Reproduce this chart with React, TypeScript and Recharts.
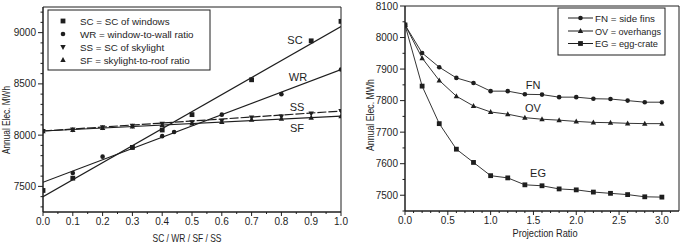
import React from 'react';
import {
  ComposedChart,
  LineChart,
  Line,
  Scatter,
  XAxis,
  YAxis,
  ReferenceArea
} from 'recharts';

// left panel: scatter points
const scX = [0, 0.1, 0.3, 0.4, 0.5, 0.7, 0.9, 1.0];
const scY = [7460, 7580, 7880, 8050, 8200, 8540, 8920, 9110];
const wrX = [0.1, 0.2, 0.3, 0.4, 0.44, 0.6, 0.8, 1.0];
const wrY = [7630, 7790, 7880, 7990, 8030, 8200, 8400, 8640];
const skyX = [0, 0.1, 0.2, 0.3, 0.4, 0.5, 0.6, 0.7, 0.8, 0.9, 1.0];
const ssY = [8040, 8055, 8075, 8090, 8110, 8125, 8140, 8170, 8180, 8210, 8235];
const sfY = [8040, 8050, 8070, 8085, 8100, 8115, 8130, 8150, 8160, 8170, 8185];

// left panel: fitted lines (end points)
const fitX = [0, 1.0];
const scFit = [7400, 9060];
const wrFit = [7540, 8640];
const ssFit = [8040, 8235];
const sfFit = [8040, 8185];

// right panel
const ratio = [0, 0.2, 0.4, 0.6, 0.8, 1.0, 1.2, 1.4, 1.6, 1.8, 2.0, 2.2, 2.4, 2.6, 2.8, 3.0];
const fnY = [8040, 7951, 7906, 7872, 7856, 7830, 7830, 7820, 7819, 7811, 7811, 7806, 7805, 7800, 7795, 7795];
const ovY = [8040, 7935, 7864, 7814, 7783, 7764, 7757, 7746, 7741, 7738, 7734, 7731, 7730, 7728, 7727, 7727];
const egY = [8040, 7846, 7727, 7646, 7604, 7562, 7555, 7533, 7530, 7520, 7517, 7510, 7506, 7502, 7495, 7494];

// ticks
const leftXMajor = [0, 0.1, 0.2, 0.3, 0.4, 0.5, 0.6, 0.7, 0.8, 0.9, 1.0];
const leftXMinor = [0.05, 0.15, 0.25, 0.35, 0.45, 0.55, 0.65, 0.75, 0.85, 0.95];
const leftYMajor = [7500, 8000, 8500, 9000];
const leftYMinor = [7300, 7400, 7600, 7700, 7800, 7900, 8100, 8200, 8300, 8400, 8600, 8700, 8800, 8900, 9100, 9200];
const rightXMajor = [0, 0.5, 1.0, 1.5, 2.0, 2.5, 3.0];
const rightXMinor = [0.1, 0.2, 0.3, 0.4, 0.6, 0.7, 0.8, 0.9, 1.1, 1.2, 1.3, 1.4, 1.6, 1.7, 1.8, 1.9, 2.1, 2.2, 2.3, 2.4, 2.6, 2.7, 2.8, 2.9, 3.1];
const rightYMajor = [7500, 7600, 7700, 7800, 7900, 8000, 8100];
const rightYMinor = [7450, 7550, 7650, 7750, 7850, 7950, 8050];

const INK = '#1e1e1e';
const FONT = '"Liberation Sans", Arial, sans-serif';

const zip = (xs: number[], ys: number[]) => xs.map((x, i) => ({ x, y: ys[i] }));
const rightData = ratio.map((x, i) => ({ x, fn: fnY[i], ov: ovY[i], eg: egY[i] }));

const isMajor = (v: number, list: number[]) => list.some((m) => Math.abs(m - v) < 1e-6);

const makeXTick = (major: number[]) => (p: any) => {
  const v = p.payload.value;
  const big = isMajor(v, major);
  return (
    <g>
      <line x1={p.x} x2={p.x} y1={p.y} y2={p.y + (big ? 4 : 2)} stroke={INK} />
      {big && (
        <text x={p.x} y={p.y + 13} textAnchor="middle" fontSize={10} fontFamily={FONT} fill={INK}>
          {v.toFixed(1)}
        </text>
      )}
    </g>
  );
};

const makeYTick = (major: number[]) => (p: any) => {
  const v = p.payload.value;
  const big = isMajor(v, major);
  return (
    <g>
      <line x1={p.x} x2={p.x - (big ? 5 : 2.5)} y1={p.y} y2={p.y} stroke={INK} />
      {big && (
        <text x={p.x - 7} y={p.y + 3.5} textAnchor="end" fontSize={10} fontFamily={FONT} fill={INK}>
          {v}
        </text>
      )}
    </g>
  );
};

const Square = ({ cx, cy }: any) => <rect x={cx - 2.4} y={cy - 2.4} width={4.8} height={4.8} fill={INK} />;
const Dot = ({ cx, cy }: any) => <circle cx={cx} cy={cy} r={2.3} fill={INK} />;
const TriUp = ({ cx, cy }: any) => (
  <polygon points={`${cx},${cy - 2.9} ${cx - 2.7},${cy + 2.1} ${cx + 2.7},${cy + 2.1}`} fill={INK} />
);
const TriDown = ({ cx, cy }: any) => (
  <polygon points={`${cx},${cy + 2.9} ${cx - 2.7},${cy - 2.1} ${cx + 2.7},${cy - 2.1}`} fill={INK} />
);

const lineDot = (Shape: any) => (p: any) => <Shape key={`d${p.index}`} cx={p.cx} cy={p.cy} />;

const Overlay = () => (
  <svg width={685} height={246} style={{ position: 'absolute', left: 0, top: 0, pointerEvents: 'none' }}>
    <g fontFamily={FONT} fill={INK}>
      {/* left legend */}
      <rect x={48} y={10} width={162} height={60} fill="white" stroke={INK} strokeWidth={1} />
      <Square cx={63} cy={21} />
      <Dot cx={63} cy={34} />
      <TriDown cx={63} cy={47} />
      <TriUp cx={63} cy={60} />
      <text x={80} y={24.5} fontSize={9.8}>SC = SC of windows</text>
      <text x={80} y={37.5} fontSize={9.8}>WR = window-to-wall ratio</text>
      <text x={80} y={50.5} fontSize={9.8}>SS = SC of skylight</text>
      <text x={80} y={63.5} fontSize={9.8}>SF = skylight-to-roof ratio</text>

      {/* left series labels */}
      <text x={295} y={44} fontSize={11} textAnchor="middle">SC</text>
      <text x={298} y={81} fontSize={11} textAnchor="middle">WR</text>
      <text x={297} y={111} fontSize={11} textAnchor="middle">SS</text>
      <text x={297} y={132} fontSize={11} textAnchor="middle">SF</text>

      {/* left titles */}
      <text x={187} y={242} fontSize={10.5} textAnchor="middle" textLength={69} lengthAdjust="spacingAndGlyphs">
        SC / WR / SF / SS
      </text>
      <text transform="translate(9.5,120) rotate(-90)" fontSize={10} textAnchor="middle" textLength={68} lengthAdjust="spacingAndGlyphs">
        Annual Elec. MWh
      </text>

      {/* right legend */}
      <rect x={558} y={8} width={107} height={47} fill="white" stroke={INK} strokeWidth={1} />
      <line x1={568} x2={593} y1={18} y2={18} stroke={INK} />
      <Dot cx={580.5} cy={18} />
      <line x1={568} x2={593} y1={31} y2={31} stroke={INK} />
      <TriUp cx={580.5} cy={31} />
      <line x1={568} x2={593} y1={43.5} y2={43.5} stroke={INK} />
      <Square cx={580.5} cy={43.5} />
      <text x={595} y={21.5} fontSize={9.5} textLength={60} lengthAdjust="spacingAndGlyphs">FN = side fins</text>
      <text x={595} y={34.5} fontSize={9.5} textLength={66} lengthAdjust="spacingAndGlyphs">OV = overhangs</text>
      <text x={595} y={47} fontSize={9.5} textLength={63} lengthAdjust="spacingAndGlyphs">EG = egg-crate</text>

      {/* right series labels */}
      <text x={533} y={89} fontSize={11} textAnchor="middle">FN</text>
      <text x={533} y={112} fontSize={11} textAnchor="middle">OV</text>
      <text x={538} y={177} fontSize={11} textAnchor="middle">EG</text>

      {/* right titles */}
      <text x={545} y={237} fontSize={10.5} textAnchor="middle" textLength={65} lengthAdjust="spacingAndGlyphs">
        Projection Ratio
      </text>
      <text transform="translate(373.5,115) rotate(-90)" fontSize={10} textAnchor="middle" textLength={72} lengthAdjust="spacingAndGlyphs">
        Annual Elec. MWh
      </text>
    </g>
  </svg>
);

export default function App() {
  return (
    <div style={{ position: 'absolute', left: 0, top: 0, width: 685, height: 246, background: '#fff' }}>
      <div style={{ position: 'absolute', left: 0, top: 0 }}>
        <ComposedChart width={352} height={246} margin={{ top: 7, right: 11, bottom: 0, left: 0 }}>
          <XAxis
            type="number"
            dataKey="x"
            domain={[0, 1]}
            ticks={[...leftXMajor, ...leftXMinor].sort((a, b) => a - b)}
            interval={0}
            height={34}
            tickSize={0}
            tickMargin={0}
            tickLine={false}
            tick={makeXTick(leftXMajor)}
            axisLine={{ stroke: INK }}
            allowDataOverflow
          />
          <YAxis
            type="number"
            domain={[7250, 9250]}
            ticks={[...leftYMajor, ...leftYMinor].sort((a, b) => a - b)}
            interval={0}
            width={43}
            tickSize={0}
            tickMargin={0}
            tickLine={false}
            tick={makeYTick(leftYMajor)}
            axisLine={{ stroke: INK }}
            allowDataOverflow
          />
          <ReferenceArea x1={0} x2={1} y1={7250} y2={9250} fill="none" stroke={INK} strokeWidth={1} />
          <Line data={zip(fitX, scFit)} dataKey="y" stroke={INK} strokeWidth={1.2} dot={false} isAnimationActive={false} />
          <Line data={zip(fitX, wrFit)} dataKey="y" stroke={INK} strokeWidth={1.2} dot={false} isAnimationActive={false} />
          <Line data={zip(fitX, ssFit)} dataKey="y" stroke={INK} strokeWidth={1.2} strokeDasharray="9 2" dot={false} isAnimationActive={false} />
          <Line data={zip(fitX, sfFit)} dataKey="y" stroke={INK} strokeWidth={1.2} dot={false} isAnimationActive={false} />
          <Scatter data={zip(scX, scY)} dataKey="y" shape={Square} isAnimationActive={false} />
          <Scatter data={zip(wrX, wrY)} dataKey="y" shape={Dot} isAnimationActive={false} />
          <Scatter data={zip(skyX, ssY)} dataKey="y" shape={TriDown} isAnimationActive={false} />
          <Scatter data={zip(skyX, sfY)} dataKey="y" shape={TriUp} isAnimationActive={false} />
        </ComposedChart>
      </div>
      <div style={{ position: 'absolute', left: 352, top: 0 }}>
        <LineChart width={333} height={246} data={rightData} margin={{ top: 6, right: 6, bottom: 0, left: 0 }}>
          <XAxis
            type="number"
            dataKey="x"
            domain={[0, 3.2]}
            ticks={[...rightXMajor, ...rightXMinor].sort((a, b) => a - b)}
            interval={0}
            height={35}
            tickSize={0}
            tickMargin={0}
            tickLine={false}
            tick={makeXTick(rightXMajor)}
            axisLine={{ stroke: INK }}
            allowDataOverflow
          />
          <YAxis
            type="number"
            domain={[7450, 8100]}
            ticks={[...rightYMajor, ...rightYMinor].sort((a, b) => a - b)}
            interval={0}
            width={53}
            tickSize={0}
            tickMargin={0}
            tickLine={false}
            tick={makeYTick(rightYMajor)}
            axisLine={{ stroke: INK }}
            allowDataOverflow
          />
          <ReferenceArea x1={0} x2={3.2} y1={7450} y2={8100} fill="none" stroke={INK} strokeWidth={1} />
          <Line type="linear" dataKey="fn" stroke={INK} strokeWidth={0.9} dot={lineDot(Dot)} isAnimationActive={false} />
          <Line type="linear" dataKey="ov" stroke={INK} strokeWidth={0.9} dot={lineDot(TriUp)} isAnimationActive={false} />
          <Line type="linear" dataKey="eg" stroke={INK} strokeWidth={0.9} dot={lineDot(Square)} isAnimationActive={false} />
        </LineChart>
      </div>
      <Overlay />
    </div>
  );
}
